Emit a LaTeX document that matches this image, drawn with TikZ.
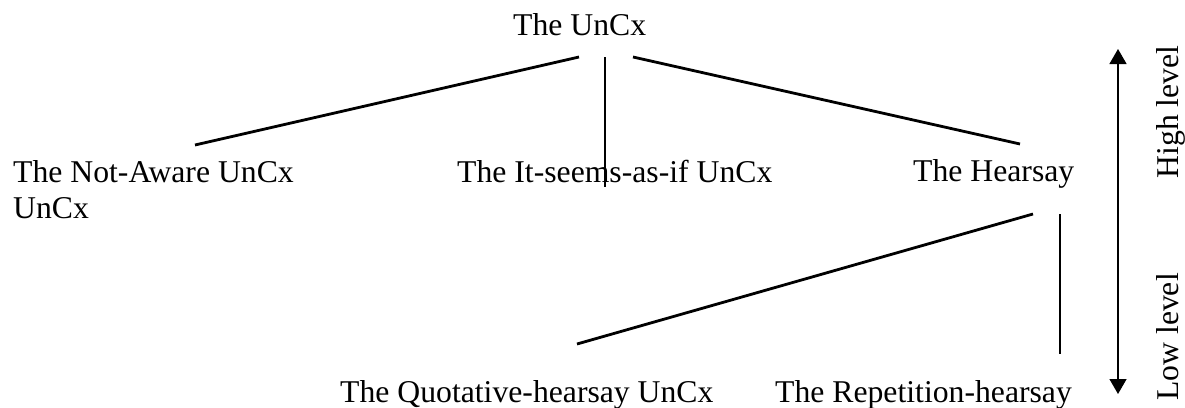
\documentclass[tikz,border=0pt]{standalone}
\usepackage{fontspec}
\setmainfont{Liberation Serif}
\usetikzlibrary{arrows.meta}

\begin{document}
\begin{tikzpicture}[
    x=1pt, y=-1pt,
    tag/.style={inner sep=0pt, anchor=base west, font=\fontsize{31.7}{36}\selectfont},
    side/.style={tag, anchor=base, rotate=90},
    link/.style={line width=2.8pt},
    arrow/.style={{Triangle[length=15pt,width=17pt]}-{Triangle[length=15pt,width=17pt]}, line width=1.3pt}
]
\useasboundingbox (0,0) rectangle (1185,407);
\node[tag] (root) at (513,35) {The UnCx};
\node[tag, align=left] (notaware) at (13,218) {The Not-Aware UnCx\\UnCx};
\node[tag] (seems) at (457,182) {The It-seems-as-if UnCx};
\node[tag] (hearsay) at (913,181) {The Hearsay};
\node[tag] (quot) at (340,402) {The Quotative-hearsay UnCx};
\node[tag] (rep) at (775,402) {The Repetition-hearsay};
\node[side] (high) at (1178,112) {High level};
\node[side] (low) at (1178,337) {Low level};

\coordinate (root-l) at (579,57);
\coordinate (root-m) at (605,57);
\coordinate (root-r) at (633,57);
\coordinate (notaware-t) at (195,145);
\coordinate (seems-t) at (605,187);
\coordinate (hearsay-t) at (1020,144);
\coordinate (hearsay-l) at (1033,214);
\coordinate (hearsay-r) at (1060,214);
\coordinate (quot-t) at (577,344);
\coordinate (rep-t) at (1060,354);
\coordinate (up) at (1118,49);
\coordinate (down) at (1118,394);

\draw[link] (root-l) -- (notaware-t);
\draw[link] (root-m) -- (seems-t);
\draw[link] (root-r) -- (hearsay-t);
\draw[link] (hearsay-l) -- (quot-t);
\draw[link] (hearsay-r) -- (rep-t);
\draw[arrow] (up) -- (down);
\end{tikzpicture}
\end{document}
